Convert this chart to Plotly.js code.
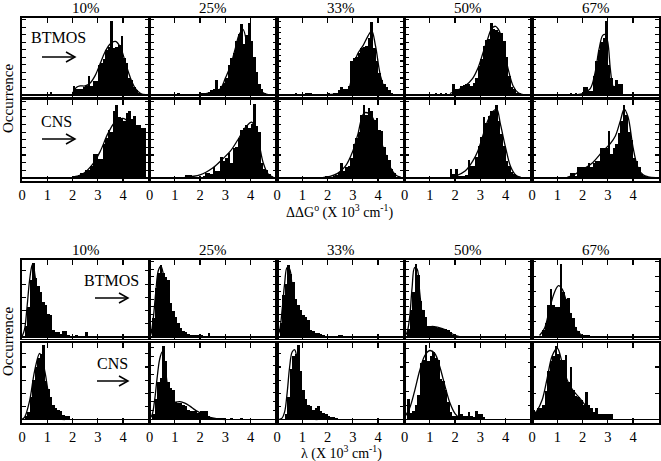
<!DOCTYPE html>
<html>
<head>
<meta charset="utf-8">
<script src="https://cdn.plot.ly/plotly-3.0.1.min.js"></script>
<style>html,body{margin:0;padding:0;background:#fff}#chart{width:661px;height:461px}</style>
</head>
<body>
<div id="chart"></div>
<script>
// ---------------- DATA ----------------
const concentrations = ['10%', '25%', '33%', '50%', '67%'];
const solvents = ['BTMOS', 'CNS'];
const tickLabels = ['0', '1', '2', '3', '4'];
const binWidth = 0.1;

// ΔΔG° histograms (first bin centre, counts per 0.1 bin)
const dG_btmos_10_start = 1.15;
const dG_btmos_10 = [0.4,0,0,0,0,0,0,0,0,1.2,0.8,0.8,0.8,1.0,1.2,2.5,1.2,1.9,1.9,4.0,4.3,4.8,6.0,6.3,9.8,6.2,6.4,6.6,7.8,4.9,4.2,2.2,2.0,1.0,0.6,0.2];
const dG_cns_10_start = 2.05;
const dG_cns_10 = [0.2,0.2,0.4,0.7,0.7,1.0,1.0,1.6,3.1,3.1,2.5,2.5,4.5,5.2,6.3,6.0,8.7,9.6,8.0,7.8,7.5,8.5,8.7,7.7,8.1,6.9,6.9,6.5,6.5];
const dG_btmos_25_start = 1.15;
const dG_btmos_25 = [0.2,0,0,0,0,0,0,0,0,0.2,0.2,0.2,0.4,0.6,0.8,2.0,0.8,1.2,1.6,2.2,4.0,4.9,5.5,7.1,8.1,9.4,6.8,8.0,9.6,7.2,5.0,3.0,1.5,0.8,0.3];
const dG_cns_25_start = 1.45;
const dG_cns_25 = [0.4,0.4,0.4,0.1,0.1,0.1,0.1,0.3,0.6,0.6,0.5,1.4,0.9,0.9,2.7,2.2,2.6,3.3,2.0,3.9,4.1,5.2,6.3,6.5,6.9,6.6,7.0,9.7,6.8,6.0,2.0,1.2,1.0,0.5];
const dG_btmos_33_start = 0.75;
const dG_btmos_33 = [0.2,0,0,0,0.25,0.25,0.25,0,0,0,0,0,0,0.2,0,0.2,0.3,0.6,1.0,0.8,0.8,1.2,4.5,4.9,5.0,5.5,6.2,6.4,6.5,7.5,9.7,6.2,4.5,2.9,2.0,1.4,1.0,0.6,0.2];
const dG_cns_33_start = 1.95;
const dG_cns_33 = [0.3,0.3,0.1,0.2,0.4,0.8,2.0,0.9,1.4,1.6,2.6,4.4,5.2,6.0,8.2,9.5,8.2,9.1,8.8,7.6,7.8,6.3,6.1,4.0,3.0,2.4,1.2,0.6];
const dG_btmos_50_start = 1.25;
const dG_btmos_50 = [0.25,0,0.25,0,0.2,0,0,1.5,0.8,0.8,1.2,1.3,1.4,1.5,1.2,1.6,2.2,3.9,4.8,6.5,7.3,7.4,9.6,8.8,8.6,8.4,8.2,7.1,5.0,2.5,1.0,0.8,0.3,0.2];
const dG_cns_50_start = 1.85;
const dG_cns_50 = [1.2,0.5,1.2,0.2,0.2,0.3,0.4,2.4,1.5,1.6,2.7,4.2,5.4,8.0,7.2,8.1,8.8,8.7,9.6,7.4,5.8,4.2,2.2,1.5,0.8,0.5,0.3];
const dG_btmos_67_start = 1.55;
const dG_btmos_67 = [0.25,0,0.25,0,0,1.1,1.1,0.5,0.5,2.5,4.5,6.0,7.0,7.5,9.8,4.0,2.2,1.2,2.0,1.4,1.4];
const dG_cns_67_start = 1.55;
const dG_cns_67 = [0.6,0.6,0.2,1.4,1.4,1.4,1.4,2.0,1.4,2.0,2.2,2.2,3.9,3.9,3.9,6.1,3.1,3.9,4.5,5.9,7.4,9.6,8.2,6.0,5.0,2.6,2.2,1.4,0.5,0.3];

// ΔΔG° fitted curves
const dG_btmos_10_fitX = [2.0,2.15,2.3,2.5,2.7,2.9,3.1,3.3,3.5,3.7,3.9,4.1,4.3,4.5,4.7,4.9];
const dG_btmos_10_fitY = [0.2,1.0,1.2,1.2,1.6,2.6,4.2,5.8,6.8,7.1,6.3,4.2,2.2,0.8,0.2,0.05];
const dG_cns_10_fitX = [2.0,2.4,2.8,3.1,3.4,3.7,4.0,4.3,4.6,4.9];
const dG_cns_10_fitY = [0.1,0.5,1.8,3.5,5.8,7.4,7.8,7.0,5.0,3.0];
const dG_btmos_25_fitX = [2.0,2.4,2.8,3.0,3.2,3.4,3.55,3.7,3.9,4.1,4.3,4.5,4.7];
const dG_btmos_25_fitY = [0.05,0.3,0.8,2.2,3.8,6.2,8.0,8.7,6.0,2.8,1.0,0.3,0.05];
const dG_cns_25_fitX = [1.4,2.0,2.5,2.9,3.2,3.5,3.8,4.05,4.3,4.5,4.7,4.9];
const dG_cns_25_fitY = [0.1,0.4,1.3,2.5,3.5,5.0,6.6,7.3,5.0,2.0,0.5,0.1];
const dG_btmos_33_fitX = [2.0,2.5,2.8,2.9,3.0,3.2,3.4,3.6,3.75,3.9,4.1,4.3,4.5];
const dG_btmos_33_fitY = [0.05,0.2,0.5,1.4,3.5,5.5,6.5,7.8,8.5,6.5,2.5,0.6,0.1];
const dG_cns_33_fitX = [1.8,2.1,2.4,2.7,3.0,3.2,3.45,3.7,3.9,4.1,4.3,4.5,4.7,4.9];
const dG_cns_33_fitY = [0.05,0.2,0.6,1.5,3.5,5.7,8.5,8.3,7.0,5.0,3.0,1.3,0.4,0.1];
const dG_btmos_50_fitX = [1.8,2.0,2.4,2.7,2.9,3.1,3.3,3.45,3.6,3.75,3.9,4.1,4.3,4.5,4.7];
const dG_btmos_50_fitY = [0.2,0.5,1.2,2.2,3.5,5.5,7.5,8.8,9.1,8.5,6.5,3.5,1.2,0.3,0.05];
const dG_cns_50_fitX = [1.8,2.0,2.4,2.7,2.9,3.1,3.3,3.5,3.65,3.8,4.0,4.2,4.4,4.6];
const dG_cns_50_fitY = [0.05,0.2,0.9,2.2,3.5,5.5,7.5,8.7,9.0,7.0,4.0,1.5,0.4,0.1];
const dG_btmos_67_fitX = [1.8,2.0,2.3,2.5,2.65,2.8,2.9,3.0,3.1,3.2,3.35,3.5];
const dG_btmos_67_fitY = [0.05,0.2,0.8,3.0,6.0,7.9,8.0,7.0,3.5,1.2,0.3,0.05];
const dG_cns_67_fitX = [1.4,1.6,2.0,2.4,2.8,3.1,3.3,3.5,3.65,3.8,4.0,4.2,4.4,4.6,4.9];
const dG_cns_67_fitY = [0.1,0.3,1.1,2.0,3.5,4.5,5.5,7.5,9.0,8.0,4.0,1.3,0.4,0.15,0.05];

// λ histograms
const lam_btmos_10_start = 0.15;
const lam_btmos_10 = [1.5,4.0,7.5,9.8,7.8,6.8,6.0,4.7,4.2,3.0,2.9,0.9,0.6,0.6,0.4,0.8,0.8,0.2,0,0,0.3,0,0,0,0.6];
const lam_cns_10_start = 0.15;
const lam_cns_10 = [0.5,1.0,3.0,5.3,7.0,8.2,8.7,9.9,5.2,4.1,3.0,1.9,1.5,1.3,1.2,0.6,0.5,0.5];
const lam_btmos_25_start = 0.15;
const lam_btmos_25 = [2.5,6.5,8.5,9.5,8.5,8.0,7.5,4.5,3.5,2.6,1.8,1.2,0.8,0.6,0.4,0.3,0.3,0.2,0.2,0.2,0.1,0.1,0.5,0.1,0.1,0.1,0.1,0.1,0.1];
const lam_cns_25_start = 0.15;
const lam_cns_25 = [0.8,2.8,5.0,5.5,9.8,7.8,5.0,4.2,3.9,2.3,2.2,2.2,2.0,1.8,1.3,1.1,1.2,1.2,0.9,1.2,1.2,1.2,0.5,0.2,0.2,0.2,0.2,0.2,0.2,0.1,0.1,0.2,0.1,0.1,0.1,0.2,0.1,0.1];
const lam_btmos_33_start = 0.15;
const lam_btmos_33 = [1.8,5.5,7.0,9.6,8.4,7.3,5.0,4.2,3.6,2.9,2.7,2.2,0.9,0.8,0.5,0.5,0.4,0.2,0.1,0.1,0.1,0.1,0.1,0.2,0.2,0.1,0.1];
const lam_cns_33_start = 0.35;
const lam_cns_33 = [0.8,3.0,6.8,8.5,8.8,9.9,6.5,4.0,2.7,2.0,1.8,1.3,1.6,1.8,1.1,0.9,0.7,0.5,0.4,0.3,0.2,0.1,0.1];
const lam_btmos_50_start = 0.15;
const lam_btmos_50 = [1.1,3.6,6.0,9.7,8.2,4.8,3.6,2.6,1.5,1.4,1.3,1.3,1.2,1.2,1.1,1.0,0.9,0.6,0.3,0.1,0.05];
const lam_cns_50_start = 0.15;
const lam_cns_50 = [2.8,0.9,1.2,2.0,3.3,7.6,8.0,9.9,7.8,8.5,9.0,8.2,8.0,5.4,5.1,4.0,2.3,1.0,0.5,0.5,2.0,0.8,0.5,0.5,1.0,0.5,0.3,1.2,0.7,0.7,0.3];
const lam_btmos_67_start = 0.45;
const lam_btmos_67 = [0.9,1.8,4.2,6.4,4.2,4.0,4.0,9.7,6.0,5.0,5.2,3.2,2.5,1.3,0.8,0.3,0.2,0.2,0.2];
const lam_cns_67_start = 0.05;
const lam_cns_67 = [1.3,1.0,1.5,1.6,2.0,3.8,6.5,7.8,8.5,9.8,8.7,7.9,7.9,8.6,5.0,7.0,4.0,3.2,3.0,2.6,2.0,3.7,2.0,1.5,1.0,1.6,0.7,0.7,0.7,0.7,0.7,0.7];

// λ fitted curves
const lam_btmos_10_fitX = [0,0.1,0.2,0.3,0.4,0.45,0.5,0.6,0.7,0.8,0.9,1.0,1.2];
const lam_btmos_10_fitY = [0.05,1.0,4.0,7.5,9.5,9.7,8.5,6.0,3.0,1.2,0.4,0.1,0];
const lam_cns_10_fitX = [0,0.1,0.3,0.5,0.7,0.9,1.1,1.3,1.5,1.7];
const lam_cns_10_fitY = [0.05,0.3,2.5,6.5,8.8,6.5,2.5,0.6,0.1,0];
const lam_btmos_25_fitX = [0,0.05,0.15,0.25,0.35,0.45,0.55,0.65,0.75,0.9,1.0,1.2,1.4];
const lam_btmos_25_fitY = [0.05,0.3,2.5,6.0,8.8,9.4,8.3,6.0,3.5,1.2,0.5,0.1,0];
const lam_cns_25_fitX = [0,0.1,0.2,0.3,0.4,0.5,0.6,0.7,0.8,0.9,1.0,1.2,1.4,1.6,1.8,2.0,2.2,2.4,2.7,3.0];
const lam_cns_25_fitY = [0.1,0.6,2.5,5.5,8.0,9.0,7.5,4.8,2.8,2.2,2.3,2.4,2.2,1.8,1.3,0.9,0.5,0.3,0.1,0];
const lam_btmos_33_fitX = [0,0.1,0.2,0.3,0.4,0.5,0.6,0.7,0.8,0.9,1.0,1.2];
const lam_btmos_33_fitY = [0.1,0.8,3.5,7.0,9.2,9.0,6.5,3.8,1.8,0.8,0.3,0.05];
const lam_cns_33_fitX = [0.1,0.2,0.3,0.4,0.5,0.6,0.7,0.8,0.9,1.0,1.1,1.2,1.4,1.6];
const lam_cns_33_fitY = [0.05,0.2,1.0,3.5,7.0,9.0,9.3,8.0,5.5,3.0,1.4,0.6,0.1,0];
const lam_btmos_50_fitX = [0,0.1,0.2,0.3,0.4,0.5,0.6,0.7,0.8,0.9,1.1,1.3,1.5,1.7,1.9,2.1,2.3];
const lam_btmos_50_fitY = [0.1,0.6,2.5,6.5,9.2,9.0,6.0,3.0,1.6,1.3,1.4,1.3,1.1,0.8,0.4,0.1,0];
const lam_cns_50_fitX = [0,0.2,0.4,0.6,0.8,1.0,1.2,1.4,1.6,1.8,2.0,2.2,2.4];
const lam_cns_50_fitY = [0.3,1.5,3.8,6.5,8.5,9.2,8.8,7.0,4.5,2.2,0.8,0.2,0.05];
const lam_btmos_67_fitX = [0.3,0.5,0.7,0.9,1.05,1.2,1.4,1.6,1.8,2.0,2.2];
const lam_btmos_67_fitY = [0.2,1.2,3.8,6.0,6.8,6.3,4.2,2.0,0.7,0.2,0.05];
const lam_cns_67_fitX = [0,0.2,0.4,0.6,0.8,1.0,1.2,1.4,1.6,1.8,2.0,2.2,2.4,2.6,2.8,3.0];
const lam_cns_67_fitY = [0.5,1.2,2.6,5.5,8.5,9.5,7.5,5.2,4.0,3.2,2.4,1.5,0.9,0.4,0.15,0.05];

// panel list: block 0 = ΔΔG°, block 1 = λ ; row 0 = BTMOS, row 1 = CNS
const panels = [
  [0,0,0,dG_btmos_10_start,dG_btmos_10,dG_btmos_10_fitX,dG_btmos_10_fitY],
  [0,0,1,dG_btmos_25_start,dG_btmos_25,dG_btmos_25_fitX,dG_btmos_25_fitY],
  [0,0,2,dG_btmos_33_start,dG_btmos_33,dG_btmos_33_fitX,dG_btmos_33_fitY],
  [0,0,3,dG_btmos_50_start,dG_btmos_50,dG_btmos_50_fitX,dG_btmos_50_fitY],
  [0,0,4,dG_btmos_67_start,dG_btmos_67,dG_btmos_67_fitX,dG_btmos_67_fitY],
  [0,1,0,dG_cns_10_start,dG_cns_10,dG_cns_10_fitX,dG_cns_10_fitY],
  [0,1,1,dG_cns_25_start,dG_cns_25,dG_cns_25_fitX,dG_cns_25_fitY],
  [0,1,2,dG_cns_33_start,dG_cns_33,dG_cns_33_fitX,dG_cns_33_fitY],
  [0,1,3,dG_cns_50_start,dG_cns_50,dG_cns_50_fitX,dG_cns_50_fitY],
  [0,1,4,dG_cns_67_start,dG_cns_67,dG_cns_67_fitX,dG_cns_67_fitY],
  [1,0,0,lam_btmos_10_start,lam_btmos_10,lam_btmos_10_fitX,lam_btmos_10_fitY],
  [1,0,1,lam_btmos_25_start,lam_btmos_25,lam_btmos_25_fitX,lam_btmos_25_fitY],
  [1,0,2,lam_btmos_33_start,lam_btmos_33,lam_btmos_33_fitX,lam_btmos_33_fitY],
  [1,0,3,lam_btmos_50_start,lam_btmos_50,lam_btmos_50_fitX,lam_btmos_50_fitY],
  [1,0,4,lam_btmos_67_start,lam_btmos_67,lam_btmos_67_fitX,lam_btmos_67_fitY],
  [1,1,0,lam_cns_10_start,lam_cns_10,lam_cns_10_fitX,lam_cns_10_fitY],
  [1,1,1,lam_cns_25_start,lam_cns_25,lam_cns_25_fitX,lam_cns_25_fitY],
  [1,1,2,lam_cns_33_start,lam_cns_33,lam_cns_33_fitX,lam_cns_33_fitY],
  [1,1,3,lam_cns_50_start,lam_cns_50,lam_cns_50_fitX,lam_cns_50_fitY],
  [1,1,4,lam_cns_67_start,lam_cns_67,lam_cns_67_fitX,lam_cns_67_fitY]
];

// ---------------- LAYOUT / STYLE ----------------
const W = 661, H = 461;
const FONT = '"Liberation Serif"';
const colLeft = [22, 149.5, 277, 404.5, 532];
const colW = 127.3;
// [top px, bottom px] for block/row
const rowPx = [[[18, 96.5], [100, 181]], [[260, 338.5], [343, 423]]];
const yRange = [[[-0.2, 10.2], [-0.4, 10.2]], [[-0.2, 10.2], [-0.45, 10.2]]];
const yDtick = [
  [[1, 1, 0.75, 1, 1], [1, 1, 1, 1, 1]],
  [[1.75, 1, 1, 1, 2], [1.75, 1.2, 1.75, 1.9, 3.5]]
];
const px2x = p => p / W;
const px2y = p => 1 - p / H;

const data = [];
const layout = {
  width: W, height: H,
  margin: {l: 0, r: 0, t: 0, b: 0},
  paper_bgcolor: '#fff', plot_bgcolor: '#fff',
  showlegend: false, bargap: 0,
  font: {family: FONT, color: '#000', size: 14},
  annotations: [], shapes: []
};

panels.forEach((p, k) => {
  const [b, r, c, start, counts, fx, fy] = p;
  const n = k + 1;
  const xa = 'x' + n, ya = 'y' + n;
  data.push({type: 'bar', x0: start, dx: binWidth, y: counts, xaxis: xa, yaxis: ya,
    marker: {color: '#000', line: {width: 0}}, hoverinfo: 'skip'});
  data.push({type: 'scatter', mode: 'lines', x: fx, y: fy, xaxis: xa, yaxis: ya,
    line: {color: '#000', width: 1.3, shape: 'spline'}, hoverinfo: 'skip'});
  const [tp, bp] = rowPx[b][r];
  layout['xaxis' + n] = {
    domain: [px2x(colLeft[c]), px2x(colLeft[c] + colW)], anchor: ya,
    range: [0, 5.04], tickvals: [0, 1, 2, 3, 4], ticktext: tickLabels,
    ticks: 'inside', ticklen: 5, tickwidth: 1.3, tickcolor: '#000',
    showline: true, linecolor: '#000', linewidth: 1.8, mirror: 'ticks',
    showgrid: false, zeroline: false, showticklabels: r === 1,
    tickfont: {family: FONT, size: 14.5, color: '#000'}, fixedrange: true
  };
  layout['yaxis' + n] = {
    domain: [px2y(bp), px2y(tp)], anchor: xa,
    range: yRange[b][r], tick0: 0, dtick: yDtick[b][r][c],
    ticks: 'inside', ticklen: 4, tickwidth: 1.1, tickcolor: '#000',
    showline: true, linecolor: '#000', linewidth: 1.8, mirror: 'ticks',
    showgrid: false, zeroline: true, zerolinecolor: '#000', zerolinewidth: 1.2,
    showticklabels: false, fixedrange: true
  };
});

// column titles
[8, 250].forEach(ty => {
  concentrations.forEach((t, c) => {
    layout.annotations.push({text: t, xref: 'paper', yref: 'paper',
      x: px2x(colLeft[c] + colW / 2), y: px2y(ty), xanchor: 'center', yanchor: 'middle',
      showarrow: false, font: {family: FONT, size: 15, color: '#000'}});
  });
});
// axis titles
layout.annotations.push({text: 'ΔΔG<sup>o</sup> (X 10<sup>3</sup> cm<sup>-1</sup>)', xref: 'paper', yref: 'paper',
  x: px2x(340), y: px2y(211), xanchor: 'center', yanchor: 'middle', showarrow: false,
  font: {family: FONT, size: 14, color: '#000'}});
layout.annotations.push({text: 'λ (X 10<sup>3</sup> cm<sup>-1</sup>)', xref: 'paper', yref: 'paper',
  x: px2x(342), y: px2y(452), xanchor: 'center', yanchor: 'middle', showarrow: false,
  font: {family: FONT, size: 14, color: '#000'}});
[99, 342].forEach(cy => {
  layout.annotations.push({text: 'Occurrence', xref: 'paper', yref: 'paper', textangle: -90,
    x: px2x(8), y: px2y(cy), xanchor: 'center', yanchor: 'middle', showarrow: false,
    font: {family: FONT, size: 15, color: '#000'}});
});
// solvent labels + arrows (arrows drawn as shapes)
const labelPos = [
  [solvents[0], 58, 38, 42, 75, 57],
  [solvents[1], 56, 122, 42, 75, 139],
  [solvents[0], 111, 280, 95, 128, 298],
  [solvents[1], 112, 363, 97, 128, 381]
];
labelPos.forEach(([t, lx, ly, tail, tip, ay]) => {
  layout.annotations.push({text: t, xref: 'paper', yref: 'paper', x: px2x(lx), y: px2y(ly),
    xanchor: 'center', yanchor: 'middle', showarrow: false, font: {family: FONT, size: 16, color: '#000'}});
  layout.shapes.push({type: 'line', xref: 'paper', yref: 'paper',
    x0: px2x(tail), x1: px2x(tip - 1), y0: px2y(ay), y1: px2y(ay), line: {color: '#000', width: 1.5}});
  layout.shapes.push({type: 'path', xref: 'paper', yref: 'paper',
    path: `M ${px2x(tip - 9)} ${px2y(ay - 5)} L ${px2x(tip)} ${px2y(ay)} L ${px2x(tip - 9)} ${px2y(ay + 5)}`,
    line: {color: '#000', width: 1.5}});
});

Plotly.newPlot('chart', data, layout, {staticPlot: true, displayModeBar: false});
</script>
</body>
</html>
